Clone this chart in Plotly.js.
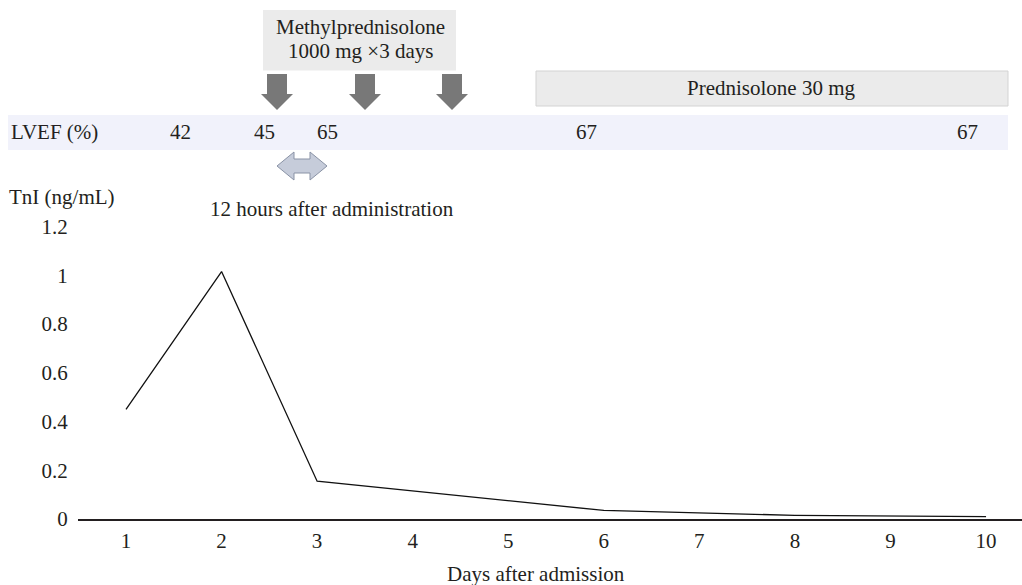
<!DOCTYPE html>
<html>
<head>
<meta charset="utf-8">
<script src="https://cdn.plot.ly/plotly-3.0.1.min.js"></script>
<style>html,body{margin:0;padding:0;background:#fff;}#chart{width:1022px;height:585px;}</style>
</head>
<body>
<div id="chart"></div>
<script>
// ---- data ----
const days = [1, 2, 3, 6, 8, 10];
const tni = [0.45, 1.015, 0.155, 0.035, 0.015, 0.01];
const xTicks = [1, 2, 3, 4, 5, 6, 7, 8, 9, 10];
const yTicks = [0, 0.2, 0.4, 0.6, 0.8, 1, 1.2];
const yTickText = ['0', '0.2', '0.4', '0.6', '0.8', '1', '1.2'];
const lvefValues = ['42', '45', '65', '67', '67'];

// ---- layout helpers (pixel -> paper) ----
const W = 1022, H = 585, ML = 78, MR = 0, MT = 0, MB = 66;
const PW = W - ML - MR, PH = H - MT - MB;
const px = p => (p - ML) / PW;
const py = p => (H - MB - p) / PH;
const FONT = 'Liberation Serif, Times New Roman, serif';
const FS = 21;
const TXT = '#231f20';

const shapes = [];
const annotations = [];
function rect(x0, y0, x1, y1, fill, line) {
  shapes.push({type: 'rect', xref: 'paper', yref: 'paper', x0: px(x0), x1: px(x1), y0: py(y1), y1: py(y0),
    fillcolor: fill, line: line || {width: 0}, layer: 'below'});
}
function path(pts, fill, line) {
  const d = pts.map((p, i) => (i ? 'L' : 'M') + px(p[0]) + ',' + py(p[1])).join(' ') + ' Z';
  shapes.push({type: 'path', xref: 'paper', yref: 'paper', path: d, fillcolor: fill, line: line || {width: 0}});
}
function text(t, x, y, xanchor, size) {
  annotations.push({text: t, xref: 'paper', yref: 'paper', x: px(x), y: py(y), xanchor: xanchor || 'center',
    yanchor: 'middle', showarrow: false, font: {family: FONT, size: size || FS, color: TXT}});
}

// boxes
rect(263, 10, 456, 70.5, '#ebebeb');
rect(536, 71, 1008, 106, '#ebebeb', {color: '#d3d3d3', width: 1});
rect(8, 115, 1008, 150, '#f1f2fb');

// down arrows
[277, 365, 452].forEach(c => {
  path([[c - 10, 74], [c + 10, 74], [c + 10, 94], [c + 16, 94], [c, 110], [c - 16, 94], [c - 10, 94]], '#787878');
});
// double arrow
path([[277, 166], [294, 152], [294, 159], [310, 159], [310, 152], [327, 166], [310, 180], [310, 173], [294, 173], [294, 180]],
  '#c6ccda', {color: '#8a93a6', width: 1});

// texts
text('Methylprednisolone', 360, 27);
text('1000 mg \u00d73 days', 360, 51);
text('Prednisolone 30 mg', 771, 88);
text('LVEF (%)', 9, 132, 'left');
const lvefX = [180, 264, 327, 586, 967];
lvefValues.forEach((v, i) => text(v, lvefX[i], 132));
text('TnI (ng/mL)', 7, 197, 'left');
text('12 hours after administration', 332, 209);
text('Days after admission', 536, 574);

const xr = [1 - (126 - ML) / 95.56, 1 + (W - MR - 126) / 95.56];
const yr = [0, PH / 243.75];

const trace = {x: days, y: tni, type: 'scatter', mode: 'lines', line: {color: '#111', width: 1.3}, hoverinfo: 'skip'};

const layout = {
  width: W, height: H, margin: {l: ML, r: MR, t: MT, b: MB},
  paper_bgcolor: '#fff', plot_bgcolor: 'rgba(0,0,0,0)', showlegend: false,
  font: {family: FONT, size: FS, color: TXT},
  xaxis: {range: xr, tickvals: xTicks, ticktext: xTicks.map(String), showgrid: false, zeroline: false,
    showline: true, linecolor: '#231f20', linewidth: 1.5, ticks: 'outside', ticklen: 2, tickcolor: 'rgba(0,0,0,0)',
    tickfont: {family: FONT, size: FS, color: TXT}, fixedrange: true},
  yaxis: {range: yr, tickvals: yTicks, ticktext: yTickText, showgrid: false, zeroline: false, showline: false,
    ticks: 'outside', ticklen: 5, tickcolor: 'rgba(0,0,0,0)', tickfont: {family: FONT, size: FS, color: TXT}, fixedrange: true},
  shapes: shapes, annotations: annotations
};

Plotly.newPlot('chart', [trace], layout, {staticPlot: true, displayModeBar: false});
</script>
</body>
</html>
